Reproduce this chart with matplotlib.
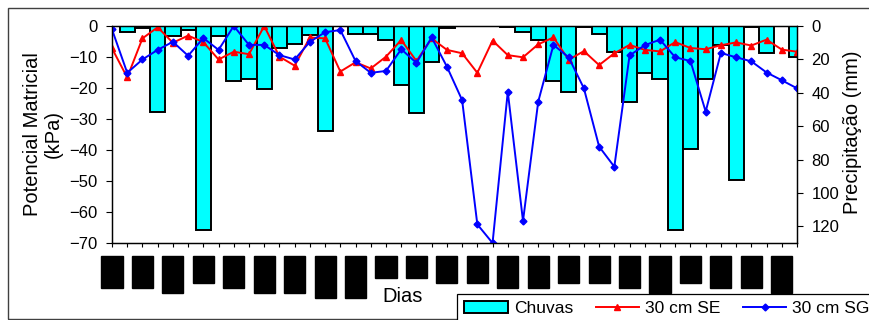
import matplotlib
matplotlib.use("Agg")
import matplotlib.pyplot as plt
from matplotlib.patches import Rectangle

# ---------------- data ----------------
days = list(range(46))
chuvas = [0, 3.8, 1.4, 51.5, 6.0, 2.6, 122.5, 5.8, 33.0, 31.8, 37.6, 13.0, 10.6, 5.4,
          63.0, 0, 4.8, 4.8, 8.4, 35.2, 52.4, 21.4, 1.0, 0, 0, 0, 0.8, 3.6, 8.2, 32.8,
          39.8, 0.8, 4.6, 15.4, 45.4, 28.0, 31.8, 122.4, 73.8, 31.8, 11.6, 92.4, 0.8,
          16.4, 0, 18.8]
se_30 = [-7.2, -16.6, -4.0, -0.4, -5.4, -3.1, -5.2, -10.8, -8.3, -9.1, 0.0, -9.9, -12.8,
         -3.7, -4.0, -14.7, -11.7, -13.7, -9.9, -4.5, -11.3, -4.0, -7.7, -8.8, -15.1,
         -4.7, -9.4, -10.1, -5.9, -3.7, -10.9, -8.1, -12.6, -8.8, -6.1, -7.7, -8.2,
         -5.2, -7.1, -7.5, -6.2, -5.3, -6.3, -4.4, -7.6, -8.3]
sg_30 = [-1.1, -15.1, -10.8, -7.7, -5.1, -9.6, -3.9, -7.7, 0.0, -6.1, -6.1, -9.4, -10.8,
         -5.1, -2.0, -1.3, -11.3, -15.1, -14.5, -7.5, -11.9, -3.7, -13.1, -23.9, -64.0,
         -70.0, -21.2, -62.9, -24.4, -6.1, -10.1, -20.1, -38.9, -45.4, -9.5, -6.2, -4.4,
         -10.1, -11.3, -27.6, -8.7, -10.1, -11.4, -15.0, -17.5, -20.1]
# date labels are shown as solid black blocks in the reference (one every 2 days)
label_lengths = [4, 4, 5, 3, 4, 5, 5, 6, 6, 2, 2, 3, 3, 4, 4, 3, 3, 4, 5, 3, 4, 4, 5]
xlabels = []
for i in days:
    if i % 2 == 0:
        xlabels.append("\u2588" * label_lengths[i // 2])
    else:
        xlabels.append("")
left_ticks = [-70, -60, -50, -40, -30, -20, -10, 0]
right_ticks = [0, 20, 40, 60, 80, 100, 120]

plt.rcParams['font.family'] = ['Liberation Sans', 'DejaVu Sans']

W, H = 869, 320
fig = plt.figure(figsize=(W / 100, H / 100), dpi=100)
L, R, T, B = 112, 797, 26, 243
ax = fig.add_axes([L / W, (H - B) / H, (R - L) / W, (B - T) / H])
ax2 = ax.twinx()

# bars on secondary axis (drawn behind lines)
bars = ax2.bar(days, chuvas, width=1.0, color='#00FFFF', edgecolor='black',
               linewidth=1.4, label='Chuvas')
ax2.set_ylim(130, 0)
ax2.set_yticks(right_ticks)

ax.set_zorder(ax2.get_zorder() + 1)
ax.patch.set_visible(False)

l1, = ax.plot(days, se_30, color='#FF0000', lw=1.4, marker='^', ms=4.5,
              label='30 cm SE')
l2, = ax.plot(days, sg_30, color='#0000FF', lw=1.4, marker='D', ms=3.5,
              label='30 cm SG')
ax.set_xlim(0, 45)
ax.set_ylim(-70, 0)
ax.set_yticks(left_ticks)
ax.tick_params(axis='y', labelsize=12, length=4.5, width=0.8, pad=6)
ax2.tick_params(axis='y', labelsize=12, length=4.5, width=0.8, pad=6)

ax.set_xticks(days)
ax.set_xticklabels(xlabels, rotation=90, fontsize=6, color='black',
                   family='DejaVu Sans Mono',
                   bbox=dict(facecolor='black', edgecolor='black',
                             boxstyle='square,pad=0.7'))
ax.tick_params(axis='x', length=3, width=0.8, pad=10.5)

for a in (ax, ax2):
    for s in a.spines.values():
        s.set_color('black')
        s.set_linewidth(0.9)

fig.text(43 / W, 1 - 134 / H, 'Potencial Matricial\n(kPa)', rotation=90,
         ha='center', va='center', fontsize=14.5, multialignment='center',
         linespacing=1.1)
fig.text(853 / W, 1 - 132 / H, 'Precipitação (mm)', rotation=90,
         ha='center', va='center', fontsize=14.5)
fig.text(403 / W, 1 - 297 / H, 'Dias', ha='center', va='center', fontsize=14.5)

leg = fig.legend([bars, l1, l2], ['Chuvas', '30 cm SE', '30 cm SG'],
                 loc='upper left', bbox_to_anchor=(457 / W, 1 - 294 / H), ncol=3,
                 fontsize=12.5, frameon=True, fancybox=False, edgecolor='black',
                 borderaxespad=0, borderpad=0.42, handletextpad=0.35,
                 columnspacing=1.3, handlelength=2.5, framealpha=1)
leg.get_frame().set_linewidth(0.9)

fig.patches.append(Rectangle((8 / W, 1 / H), 1.0, (319 - 8) / H,
                             transform=fig.transFigure, fill=False,
                             edgecolor='#404040', linewidth=1.0))

fig.savefig('out.png', dpi=100)
